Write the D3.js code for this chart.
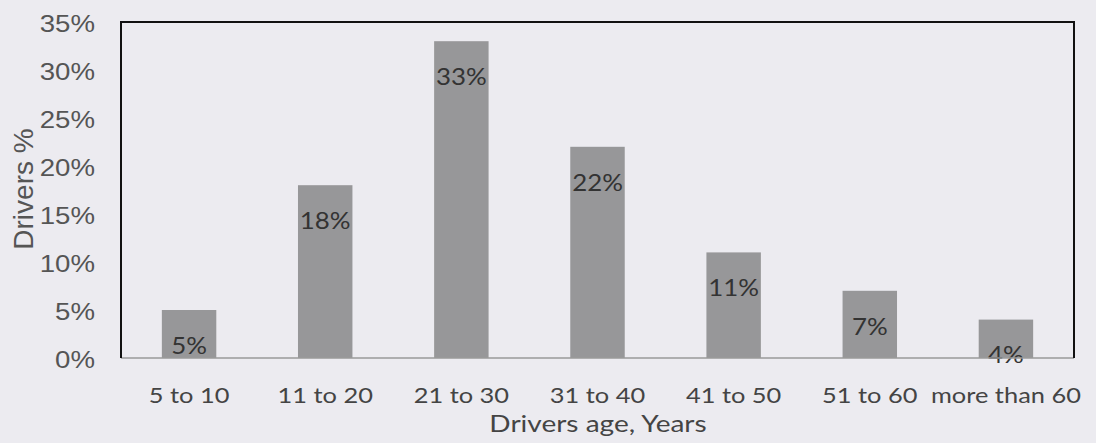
<!DOCTYPE html>
<html>
<head>
<meta charset="utf-8">
<script src="https://cdn.jsdelivr.net/npm/d3@7"></script>
<style>
  html, body { margin: 0; padding: 0; background: #ecebf0; }
  svg { display: block; }
</style>
</head>
<body>
<svg id="chart" width="1096" height="443"></svg>
<script>
// Share of drivers by age group
const categories = ["5 to 10", "11 to 20", "21 to 30", "31 to 40", "41 to 50", "51 to 60", "more than 60"];
const values = [5, 18, 33, 22, 11, 7, 4];
const yTicks = [0, 5, 10, 15, 20, 25, 30, 35];
const xTitle = "Drivers age, Years";
const yTitle = "Drivers %";

const svg = d3.select("#chart");
const W = 1096, H = 443;
const plot = { left: 121, right: 1074, top: 22, bottom: 358 };
const WIDE = 1.15; // horizontal widening applied to label glyphs

// widen text horizontally while keeping its anchor point in place
function widen(sel, k) {
  sel.each(function () {
    const t = d3.select(this);
    const x = +t.attr("x") || 0;
    t.attr("x", x / k).attr("transform", `scale(${k},1)`);
  });
}

svg.append("rect").attr("width", W).attr("height", H).attr("fill", "#ecebf0");

const x = d3.scaleBand()
  .domain(categories)
  .range([plot.left, plot.right])
  .paddingInner(0.6)
  .paddingOuter(0.3);

const y = d3.scaleLinear().domain([0, 35]).range([plot.bottom, plot.top]);

// Bars
svg.append("g").selectAll("rect")
  .data(values)
  .join("rect")
  .attr("x", (d, i) => x(categories[i]))
  .attr("y", d => y(d))
  .attr("width", x.bandwidth())
  .attr("height", d => y(0) - y(d))
  .attr("fill", "#979799");

// Value labels inside bars
svg.append("g").selectAll("text")
  .data(values)
  .join("text")
  .attr("transform", (d, i) => `translate(${x(categories[i]) + x.bandwidth() / 2},${y(d) + 36}) scale(${WIDE},1)`)
  .attr("dy", "0.35em")
  .attr("text-anchor", "middle")
  .attr("font-family", "Lato, 'Open Sans', sans-serif")
  .attr("font-size", 22.5)
  .attr("fill", "#333")
  .text(d => d + "%");

// Y axis tick labels
const yAxis = d3.axisLeft(y).tickValues(yTicks).tickSize(0).tickPadding(26).tickFormat(d => d + "%");
const gy = svg.append("g").attr("transform", `translate(${plot.left},0)`).call(yAxis);
gy.select(".domain").remove();
gy.selectAll("text")
  .attr("font-family", "'Liberation Sans', Arial, sans-serif")
  .attr("font-size", 24)
  .attr("fill", "#555")
  .attr("dy", "0.38em")
  .call(widen, WIDE);

// X axis category labels
const xAxis = d3.axisBottom(x).tickSize(0).tickPadding(45);
const gx = svg.append("g").attr("transform", `translate(0,${plot.bottom})`).call(xAxis);
gx.select(".domain").remove();
gx.selectAll("text")
  .attr("font-family", "Lato, 'Open Sans', sans-serif")
  .attr("font-size", 21)
  .attr("fill", "#444")
  .attr("dy", "0")
  .call(widen, 1.21);

// Plot frame: black top/left/right, grey baseline
svg.append("line")
  .attr("x1", plot.left).attr("x2", plot.right)
  .attr("y1", plot.bottom).attr("y2", plot.bottom)
  .attr("stroke", "#9a9a9a").attr("stroke-width", 1.5);
svg.append("path")
  .attr("d", `M${plot.left},${plot.bottom}V${plot.top}H${plot.right}V${plot.bottom}`)
  .attr("fill", "none")
  .attr("stroke", "#111")
  .attr("stroke-width", 2);

// Axis titles
svg.append("text")
  .attr("transform", `translate(598,432) scale(1.22,1)`)
  .attr("text-anchor", "middle")
  .attr("font-family", "Lato, 'Open Sans', sans-serif")
  .attr("font-size", 23)
  .attr("fill", "#444")
  .text(xTitle);

svg.append("text")
  .attr("transform", `translate(33,189) rotate(-90)`)
  .attr("text-anchor", "middle")
  .attr("font-family", "'Liberation Sans', Arial, sans-serif")
  .attr("font-size", 28)
  .attr("fill", "#555")
  .text(yTitle);
</script>
</body>
</html>
